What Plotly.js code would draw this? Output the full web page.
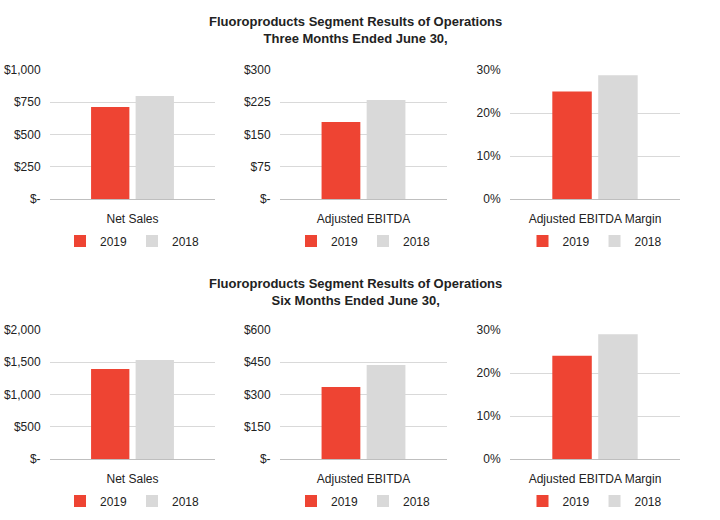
<!DOCTYPE html>
<html><head><meta charset="utf-8">
<script src="https://cdn.plot.ly/plotly-3.0.1.min.js"></script>
<style>body{margin:0}#c{width:720px;height:520px}</style>
</head><body><div id="c"></div>
<script>
const cats = ['Net Sales', 'Adjusted EBITDA', 'Adjusted EBITDA Margin'];
const q2019 = [713, 179, 0.25];
const q2018 = [798, 230, 0.288];
const h2019 = [1395, 335, 0.24];
const h2018 = [1535, 437, 0.29];
const tickSets = [
  { vals: [0, 250, 500, 750, 1000], text: ['$-', '$250', '$500', '$750', '$1,000'] },
  { vals: [0, 75, 150, 225, 300], text: ['$-', '$75', '$150', '$225', '$300'] },
  { vals: [0, 0.1, 0.2, 0.3], text: ['0%', '10%', '20%', '30%'] },
  { vals: [0, 500, 1000, 1500, 2000], text: ['$-', '$500', '$1,000', '$1,500', '$2,000'] },
  { vals: [0, 150, 300, 450, 600], text: ['$-', '$150', '$300', '$450', '$600'] },
  { vals: [0, 0.1, 0.2, 0.3], text: ['0%', '10%', '20%', '30%'] },
];
const titles = [
  'Fluoroproducts Segment Results of Operations<br>Three Months Ended June 30,',
  'Fluoroproducts Segment Results of Operations<br>Six Months Ended June 30,',
];

const font = 'Liberation Sans Narrow, Arial Narrow, Liberation Sans, Arial';
const cols = [[50, 215], [280, 447], [510, 680]];
const rows = [[70, 199], [330, 459]];
const W = 720, H = 520;

const data = [];
const layout = {
  width: W, height: H, margin: { l: 0, r: 0, t: 0, b: 0 },
  paper_bgcolor: 'white', plot_bgcolor: 'white',
  barmode: 'group', bargap: 0.46, bargroupgap: 0.14,
  font: { family: font, size: 12, color: '#222' },
  annotations: [],
};

for (let r = 0; r < 2; r++) {
  const a = r === 0 ? q2019 : h2019, b = r === 0 ? q2018 : h2018;
  for (let c = 0; c < 3; c++) {
    const i = r * 3 + c + 1;
    const xa = 'x' + (i === 1 ? '' : i), ya = 'y' + (i === 1 ? '' : i);
    const lg = 'legend' + (i === 1 ? '' : i);
    data.push({ type: 'bar', x: [cats[c]], y: [a[c]], name: '2019', marker: { color: '#EE4433' },
      xaxis: xa, yaxis: ya, legend: lg, hoverinfo: 'none' });
    data.push({ type: 'bar', x: [cats[c]], y: [b[c]], name: '2018', marker: { color: '#D9D9D9' },
      xaxis: xa, yaxis: ya, legend: lg, hoverinfo: 'none' });
    const ts = tickSets[i - 1];
    layout['xaxis' + (i === 1 ? '' : i)] = {
      domain: [cols[c][0] / W, cols[c][1] / W], anchor: ya,
      showline: true, linecolor: '#BFBFBF', ticks: 'outside', ticklen: 9, tickcolor: 'rgba(0,0,0,0)',
      tickfont: { size: 12 }, fixedrange: true,
    };
    layout['yaxis' + (i === 1 ? '' : i)] = {
      domain: [1 - rows[r][1] / H, 1 - rows[r][0] / H], anchor: xa,
      range: [0, ts.vals[ts.vals.length - 1]], tickvals: ts.vals, ticktext: ts.text,
      showgrid: true, gridcolor: '#D9D9D9', zeroline: false,
      ticks: 'outside', ticklen: 6, tickcolor: 'rgba(0,0,0,0)',
      tickfont: { size: 12 }, fixedrange: true,
    };
    layout[lg] = {
      orientation: 'h', x: (cols[c][0] + cols[c][1]) / 2 / W, xanchor: 'center',
      y: 1 - (rows[r][1] + 42) / H, yanchor: 'middle', font: { size: 12 },
      itemwidth: 30, tracegroupgap: 0, bgcolor: 'rgba(0,0,0,0)',
    };
  }
  layout.annotations.push({
    text: '<b>' + titles[r] + '</b>', xref: 'paper', yref: 'paper', x: 355 / W,
    y: 1 - (r === 0 ? 30 : 292) / H, showarrow: false, font: { size: 13, family: font },
    xanchor: 'center', yanchor: 'middle',
  });
}

Plotly.newPlot('c', data, layout, { displayModeBar: false, staticPlot: true });
</script></body></html>
